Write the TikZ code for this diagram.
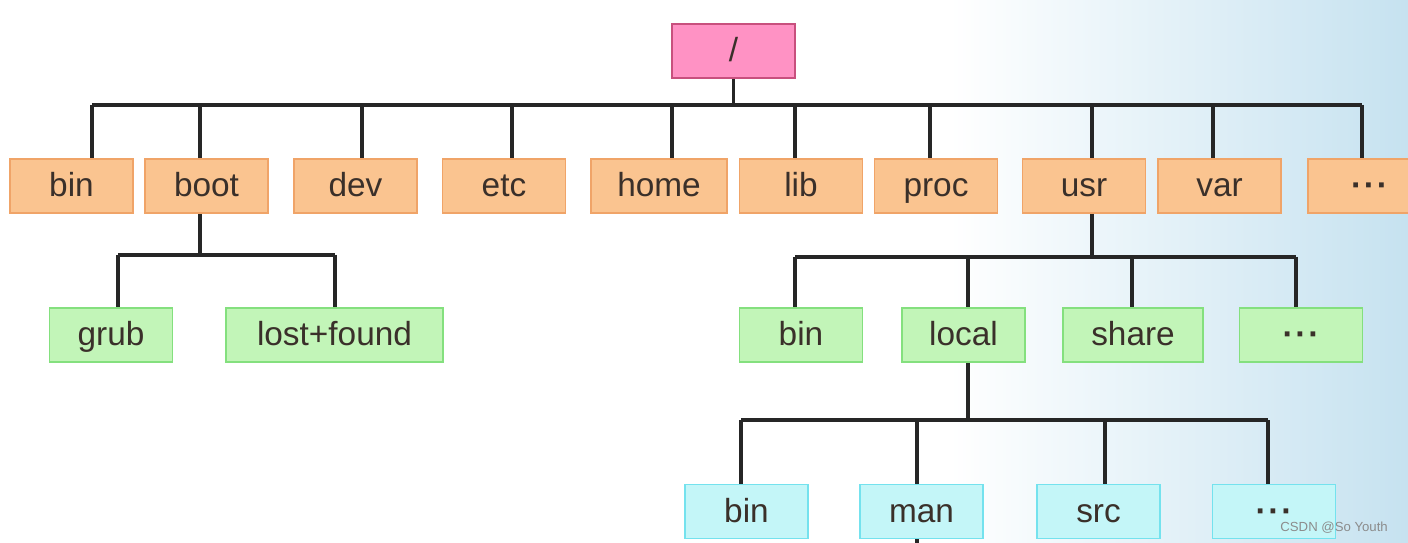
\documentclass[tikz,border=0pt]{standalone}
\usepackage{fontspec}
\setmainfont{Liberation Sans}
\usepackage{tikz}
\usetikzlibrary{calc}
\definecolor{rootfill}{HTML}{FF92C4}
\definecolor{rootline}{HTML}{C8507E}
\definecolor{dirfill}{HTML}{FAC490}
\definecolor{dirline}{HTML}{F0A468}
\definecolor{subfill}{HTML}{C2F5B8}
\definecolor{subline}{HTML}{84E07E}
\definecolor{leaffill}{HTML}{C4F6F8}
\definecolor{leafline}{HTML}{74E2EE}
\definecolor{inktext}{HTML}{3A302A}
\definecolor{bgsky}{HTML}{C6E2F0}
\newcommand{\fsBox}{\fontsize{19}{22}\selectfont}
\newcommand{\fsMark}{\fontsize{7.5}{9}\selectfont}
\newcommand{\moredots}{{\bfseries\char"00B7\kern1pt\char"00B7\kern1pt\char"00B7}}

\begin{document}
\begin{tikzpicture}[x=0.02cm, y=-0.02cm,
  every node/.style={font=\fsBox, text=inktext},
  box/.style={draw, line width=1pt, minimum width=2.46cm, minimum height=1.08cm,
    inner sep=0pt, text height=16pt, text depth=4pt},
  rootbox/.style={box, fill=rootfill, draw=rootline},
  dirbox/.style={box, fill=dirfill, draw=dirline},
  subbox/.style={box, fill=subfill, draw=subline},
  leafbox/.style={box, fill=leaffill, draw=leafline},
  link/.style={line width=1.8pt, draw=black!85}]
  \clip (0,0) rectangle (1408,543);
  \fill[white] (0,0) rectangle (1408,543);
  \shade[left color=white, right color=bgsky] (950,0) rectangle (1408,543);

  % root
  \node[rootbox] (root) at (733.5,51) {/};

  % first level
  \node[dirbox] (bin)  at (71.5,186)  {bin};
  \node[dirbox] (boot) at (206.5,186) {boot};
  \node[dirbox] (dev)  at (355.5,186) {dev};
  \node[dirbox] (etc)  at (504,186)   {etc};
  \node[dirbox, minimum width=2.72cm] (home) at (659,186) {home};
  \node[dirbox] (lib)  at (801,186)   {lib};
  \node[dirbox] (proc) at (936,186)   {proc};
  \node[dirbox] (usr)  at (1084,186)  {usr};
  \node[dirbox] (var)  at (1219.5,186) {var};
  \node[dirbox] (more) at (1369.5,186) {\moredots};

  % under boot
  \node[subbox] (grub) at (111,335) {grub};
  \node[subbox, minimum width=4.34cm] (lost) at (334.5,335) {lost+found};

  % under usr
  \node[subbox] (usrbin)  at (801,335)  {bin};
  \node[subbox] (local)   at (963.5,335) {local};
  \node[subbox, minimum width=2.8cm] (share) at (1133,335) {share};
  \node[subbox] (usrmore) at (1301,335) {\moredots};

  % under local
  \node[leafbox] (locbin)  at (746.5,511.5)  {bin};
  \node[leafbox] (man)     at (921.5,511.5)  {man};
  \node[leafbox] (src)     at (1098.5,511.5) {src};
  \node[leafbox] (locmore) at (1274,511.5)   {\moredots};

  % buses
  \foreach \n/\x in {bin/92, boot/200, dev/362, etc/512, home/672, lib/795, proc/930, usr/1092, var/1213, more/1362}{
    \coordinate (t-\n) at (\x,105);
    \draw[link] (t-\n) -- (t-\n |- \n.north);
  }
  \draw[link] (t-bin) -- (t-more);
  \draw[link] (root.south) -- (root.south |- t-bin);

  \foreach \n/\x in {grub/118, lost/335}{
    \coordinate (t-\n) at (\x,255);
    \draw[link] (t-\n) -- (t-\n |- \n.north);
  }
  \draw[link] (t-grub) -- (t-lost);
  \draw[link] (boot.south -| t-boot) -- (t-boot |- t-grub);

  \foreach \n/\x in {usrbin/795, local/968, share/1132, usrmore/1296}{
    \coordinate (t-\n) at (\x,257);
    \draw[link] (t-\n) -- (t-\n |- \n.north);
  }
  \draw[link] (t-usrbin) -- (t-usrmore);
  \draw[link] (usr.south -| t-usr) -- (t-usr |- t-usrbin);

  \foreach \n/\x in {locbin/741, man/917, src/1105, locmore/1268}{
    \coordinate (t-\n) at (\x,420);
    \draw[link] (t-\n) -- (t-\n |- \n.north);
  }
  \draw[link] (t-locbin) -- (t-locmore);
  \draw[link] (local.south -| t-local) -- (t-local |- t-locbin);
  \coordinate (mandown) at (917,560);
  \draw[link] (man.south -| t-man) -- (mandown);

  \node[font=\fsMark, text=black!45, anchor=east] (mark) at (1394,528) {CSDN @So Youth};
\end{tikzpicture}
\end{document}
